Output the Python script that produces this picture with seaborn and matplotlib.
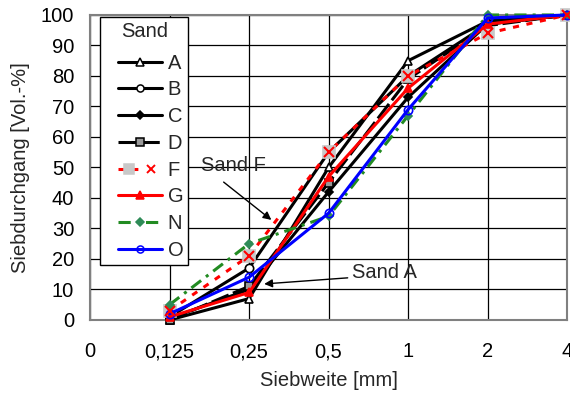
import matplotlib
matplotlib.use("Agg")
import matplotlib.pyplot as plt
import seaborn as sns
from matplotlib.lines import Line2D
from matplotlib.legend_handler import HandlerTuple, HandlerLine2D

sns.set_theme(style="white")
plt.rcParams["font.family"] = ["Liberation Sans", "DejaVu Sans"]

# sieve sizes (tick labels) and passing values per sand
tick_labels = ["0", "0,125", "0,25", "0,5", "1", "2", "4"]
sieve_pos = [1, 2, 3, 4, 5, 6]

sand_A = [0, 7, 50, 85, 98, 100]
sand_B = [1, 17, 55, 80, 97, 100]
sand_C = [0.5, 10, 42, 73, 97, 100]
sand_D = [0, 11, 45, 79, 96.5, 100]
sand_F = [3, 21, 55, 80, 94, 100]
sand_G = [1, 9, 47, 76, 97, 100]
sand_N = [5, 25, 34, 67, 100, 100]
sand_O = [2, 14, 35, 69, 99, 100]

FS = 14.5

fig = plt.figure(figsize=(5.7, 3.94), dpi=100)
ax = fig.add_axes([0.158, 0.188, 0.837, 0.774])

styles = {
    "A": dict(data=sand_A, color="black", ls="-", marker="^", mfc="white", mec="black", ms=6),
    "B": dict(data=sand_B, color="black", ls="-", marker="o", mfc="white", mec="black", ms=6),
    "C": dict(data=sand_C, color="black", ls="-", marker="D", mfc="black", mec="black", ms=4.5),
    "D": dict(data=sand_D, color="black", ls=(0, (6, 1.5)), marker="s", mfc="#999999", mec="black", ms=6),
    "F": dict(data=sand_F, color="red", ls=(0, (2, 2.5)), marker="s", mfc="#c8c8c8", mec="#c8c8c8", ms=8),
    "G": dict(data=sand_G, color="red", ls="-", marker="^", mfc="red", mec="red", ms=6),
    "N": dict(data=sand_N, color="#228b22", ls=(0, (4, 2, 1, 2)), marker="D", mfc="#2e8b57", mec="#2e8b57", ms=4.5),
    "O": dict(data=sand_O, color="blue", ls="-", marker="o", mfc="none", mec="blue", ms=6),
}

handles = []
labels = []
for name, st in styles.items():
    sns.lineplot(x=sieve_pos, y=st["data"], ax=ax, color=st["color"], linestyle=st["ls"],
                 linewidth=2.2, marker=st["marker"], markerfacecolor=st["mfc"],
                 markeredgecolor=st["mec"], markersize=st["ms"], markeredgewidth=1.2,
                 clip_on=False, zorder=3)
    h = Line2D([], [], color=st["color"], linestyle=st["ls"], linewidth=2.2, marker=st["marker"],
               markerfacecolor=st["mfc"], markeredgecolor=st["mec"], markersize=st["ms"] * 0.85,
               markeredgewidth=1.1)
    if name == "F":
        ax.plot(sieve_pos, st["data"], linestyle="none", marker="x", color="red",
                markersize=7, markeredgewidth=1.5, clip_on=False, zorder=4)
        hx = Line2D([], [], linestyle="none", marker="x", color="red", markersize=6,
                    markeredgewidth=1.4)
        h = (h, hx)
    handles.append(h)
    labels.append(name)

ax.set_xlim(0, 6)
ax.set_ylim(0, 100)
ax.set_xticks(range(len(tick_labels)))
ax.set_xticklabels(tick_labels)
ax.set_yticks(range(0, 101, 10))
ax.grid(True, color="black", linewidth=0.9)
ax.set_axisbelow(True)
for sp in ax.spines.values():
    sp.set_color("#808080")
    sp.set_linewidth(1.5)
ax.tick_params(labelsize=FS, colors="black")
ax.tick_params(axis="x", length=0, pad=16)
ax.tick_params(axis="y", length=5, direction="inout", pad=9)
ax.set_xlabel("Siebweite [mm]", fontsize=FS, labelpad=7)
ax.set_ylabel("Siebdurchgang [Vol.-%]", fontsize=FS, labelpad=8)

leg = ax.legend(handles, labels, title="Sand", loc="upper left", bbox_to_anchor=(0.021, 0.993),
                borderaxespad=0, fontsize=FS, title_fontsize=FS, frameon=True, fancybox=False,
                framealpha=1, edgecolor="black", handlelength=2.8, labelspacing=0.385,
                borderpad=0.25, handletextpad=0.3,
                handler_map={Line2D: HandlerLine2D(xpad=0.65),
                             tuple: HandlerTuple(ndivide=None, pad=0, xpad=0.65)})
leg._legend_box.sep = 9
leg.get_frame().set_linewidth(1.0)
leg.set_zorder(5)

# annotations: arrows and labels
ax.annotate("", xy=(2.28, 32.8), xytext=(1.68, 45.2),
            arrowprops=dict(arrowstyle="-|>", color="black", lw=1, shrinkA=0, shrinkB=0))
ax.text(1.8, 50.5, "Sand F", fontsize=FS, ha="center", va="center")
ax.annotate("", xy=(2.19, 11.8), xytext=(3.24, 13.8),
            arrowprops=dict(arrowstyle="-|>", color="black", lw=1, shrinkA=0, shrinkB=0))
ax.text(3.30, 15.7, "Sand A", fontsize=FS, ha="left", va="center")

fig.savefig("out.png", dpi=100)
